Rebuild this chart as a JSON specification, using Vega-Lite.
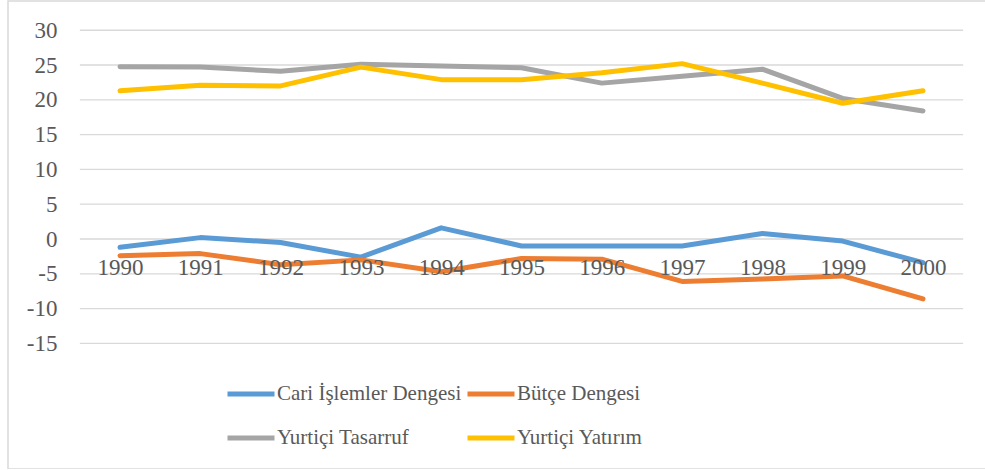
{
  "$schema": "https://vega.github.io/schema/vega-lite/v6.json",
  "autosize": {"type": "none"},
  "padding": {"left": 8, "top": 1, "right": 0, "bottom": 0},
  "width": 979,
  "height": 468,
  "background": "white",
  "config": {
    "view": {"stroke": "#D9D9D9", "strokeWidth": 1.5},
    "font": "Liberation Serif",
    "axis": {"labelFont": "Liberation Serif", "labelColor": "#595959", "labelFontSize": 23},
    "legend": {"labelFont": "Liberation Serif", "labelColor": "#595959", "labelFontSize": 21}
  },
  "datasets": {
    "grid": [{"v": -15}, {"v": -10}, {"v": -5}, {"v": 0}, {"v": 5}, {"v": 10}, {"v": 15}, {"v": 20}, {"v": 25}, {"v": 30}],
    "series": [
      {"year": 1990, "series": "Cari İşlemler Dengesi", "value": -1.2},
      {"year": 1991, "series": "Cari İşlemler Dengesi", "value": 0.2},
      {"year": 1992, "series": "Cari İşlemler Dengesi", "value": -0.5},
      {"year": 1993, "series": "Cari İşlemler Dengesi", "value": -2.6},
      {"year": 1994, "series": "Cari İşlemler Dengesi", "value": 1.6},
      {"year": 1995, "series": "Cari İşlemler Dengesi", "value": -1.0},
      {"year": 1996, "series": "Cari İşlemler Dengesi", "value": -1.0},
      {"year": 1997, "series": "Cari İşlemler Dengesi", "value": -1.0},
      {"year": 1998, "series": "Cari İşlemler Dengesi", "value": 0.8},
      {"year": 1999, "series": "Cari İşlemler Dengesi", "value": -0.3},
      {"year": 2000, "series": "Cari İşlemler Dengesi", "value": -3.4},
      {"year": 1990, "series": "Bütçe Dengesi", "value": -2.4},
      {"year": 1991, "series": "Bütçe Dengesi", "value": -2.1},
      {"year": 1992, "series": "Bütçe Dengesi", "value": -3.7},
      {"year": 1993, "series": "Bütçe Dengesi", "value": -3.0},
      {"year": 1994, "series": "Bütçe Dengesi", "value": -4.7},
      {"year": 1995, "series": "Bütçe Dengesi", "value": -2.8},
      {"year": 1996, "series": "Bütçe Dengesi", "value": -2.9},
      {"year": 1997, "series": "Bütçe Dengesi", "value": -6.1},
      {"year": 1998, "series": "Bütçe Dengesi", "value": -5.75},
      {"year": 1999, "series": "Bütçe Dengesi", "value": -5.3},
      {"year": 2000, "series": "Bütçe Dengesi", "value": -8.6},
      {"year": 1990, "series": "Yurtiçi Tasarruf", "value": 24.75},
      {"year": 1991, "series": "Yurtiçi Tasarruf", "value": 24.7},
      {"year": 1992, "series": "Yurtiçi Tasarruf", "value": 24.1},
      {"year": 1993, "series": "Yurtiçi Tasarruf", "value": 25.1},
      {"year": 1994, "series": "Yurtiçi Tasarruf", "value": 24.85},
      {"year": 1995, "series": "Yurtiçi Tasarruf", "value": 24.6},
      {"year": 1996, "series": "Yurtiçi Tasarruf", "value": 22.4},
      {"year": 1997, "series": "Yurtiçi Tasarruf", "value": 23.4},
      {"year": 1998, "series": "Yurtiçi Tasarruf", "value": 24.4},
      {"year": 1999, "series": "Yurtiçi Tasarruf", "value": 20.2},
      {"year": 2000, "series": "Yurtiçi Tasarruf", "value": 18.4},
      {"year": 1990, "series": "Yurtiçi Yatırım", "value": 21.3},
      {"year": 1991, "series": "Yurtiçi Yatırım", "value": 22.1},
      {"year": 1992, "series": "Yurtiçi Yatırım", "value": 22.0},
      {"year": 1993, "series": "Yurtiçi Yatırım", "value": 24.7},
      {"year": 1994, "series": "Yurtiçi Yatırım", "value": 22.9},
      {"year": 1995, "series": "Yurtiçi Yatırım", "value": 22.9},
      {"year": 1996, "series": "Yurtiçi Yatırım", "value": 23.9},
      {"year": 1997, "series": "Yurtiçi Yatırım", "value": 25.2},
      {"year": 1998, "series": "Yurtiçi Yatırım", "value": 22.4},
      {"year": 1999, "series": "Yurtiçi Yatırım", "value": 19.5},
      {"year": 2000, "series": "Yurtiçi Yatırım", "value": 21.3}
    ]
  },
  "layer": [
    {
      "data": {"name": "grid"},
      "mark": {"type": "rule", "color": "#D9D9D9", "strokeWidth": 1.3},
      "encoding": {
        "y": {"field": "v", "type": "quantitative", "scale": {"domain": [-33.05, 34.2], "nice": false, "zero": false},
          "axis": {"values": [-15, -10, -5, 0, 5, 10, 15, 20, 25, 30], "labelExpr": "replace(datum.label, '−', '-')", "title": null, "domain": false, "ticks": false, "tickSize": 0, "grid": false, "labelPadding": 0, "offset": -49, "labelFlush": false, "labelOverlap": false}},
        "x": {"datum": 1989.5, "type": "quantitative", "scale": {"domain": [1988.605, 2000.797], "nice": false, "zero": false},
          "axis": {"values": [1990, 1991, 1992, 1993, 1994, 1995, 1996, 1997, 1998, 1999, 2000], "format": "d", "title": null, "domain": false, "ticks": false, "tickSize": 0, "grid": false, "labelPadding": 0, "offset": -213, "labelFlush": false, "labelOverlap": false, "zindex": 1}},
        "x2": {"datum": 2000.5}
      }
    },
    {
      "data": {"name": "series"},
      "mark": {"type": "line", "strokeWidth": 5, "strokeCap": "round", "strokeJoin": "round"},
      "encoding": {
        "x": {"field": "year", "type": "quantitative"},
        "y": {"field": "value", "type": "quantitative"},
        "color": {
          "field": "series", "type": "nominal",
          "scale": {"domain": ["Cari İşlemler Dengesi", "Bütçe Dengesi", "Yurtiçi Tasarruf", "Yurtiçi Yatırım"], "range": ["#5B9BD5", "#ED7D31", "#A5A5A5", "#FFC000"]},
          "legend": {"title": null, "orient": "none", "legendX": 217, "legendY": 367, "direction": "horizontal", "columns": 2, "symbolType": "stroke", "symbolSize": 2209, "symbolStrokeWidth": 5, "labelOffset": 0, "columnPadding": -5, "rowPadding": 8, "padding": 0, "labelLimit": 400}
        }
      }
    }
  ]
}
